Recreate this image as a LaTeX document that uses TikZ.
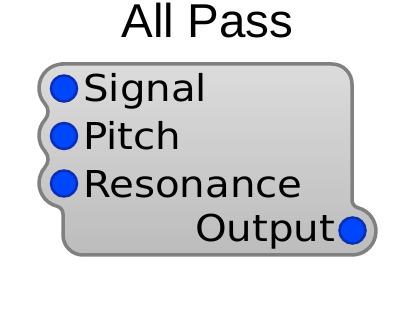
\documentclass[tikz,border=0pt]{standalone}
\usepackage{fontspec}
\setmainfont[FakeStretch=1.09]{DejaVu Sans}
\newfontfamily\titlefont{Liberation Sans}
\usetikzlibrary{positioning}
\definecolor{frame}{HTML}{808080}
\definecolor{bodytop}{HTML}{DCDCDC}
\definecolor{bodybot}{HTML}{BCBCBC}
\definecolor{portfill}{HTML}{0046FF}
\definecolor{portrim}{HTML}{0A30B0}

\begin{document}
\begin{tikzpicture}[x=1pt,y=1pt,
        port/.style={circle,fill=portfill,draw=portrim,line width=2.5pt,
                     minimum size=26pt,inner sep=0pt},
        lbl/.style={font=\fontsize{37}{40}\selectfont,inner sep=0pt},
        ttl/.style={font=\titlefont\fontsize{47.5}{50}\selectfont,inner sep=0pt}]
      \useasboundingbox (0,0) rectangle (416,-320);
      % module body
      \draw[line width=3.5pt,draw=frame,top color=bodytop,bottom color=bodybot]
        (63,-64) -- (332,-64) arc[start angle=90,end angle=0,radius=20]
        -- (352,-200) arc[start angle=180,end angle=255.5,radius=8]
        arc[start angle=75.5,end angle=-90,radius=24]
        -- (83,-255) arc[start angle=270,end angle=180,radius=20]
        -- (63,-214) arc[start angle=0,end angle=75.5,radius=8]
        arc[start angle=255.5,end angle=138.5,radius=24]
        arc[start angle=-41.5,end angle=41.5,radius=11.84]
        arc[start angle=221.5,end angle=138.5,radius=24]
        arc[start angle=-41.5,end angle=41.5,radius=11.84]
        arc[start angle=221.5,end angle=90,radius=24]
        -- cycle;
      \node[ttl,anchor=base] (title) at (207.2,-38) {All Pass};
      % ports
      \node[port] (sig) at (64,-88.5) {};
      \node[port] (pitch) at (64,-136) {};
      \node[port] (res) at (64,-183.5) {};
      \node[port] (out) at (352.5,-230.5) {};
      \node[lbl,anchor=base west] (siglbl) at (83,-101.7) {Signal};
      \node[lbl,anchor=base west] (pitchlbl) at (83,-150) {Pitch};
      \node[lbl,anchor=base west] (reslbl) at (83,-198) {Resonance};
      \node[lbl,anchor=base east] (outlbl) at (335.5,-241.7) {Output};
    \end{tikzpicture}
\end{document}
